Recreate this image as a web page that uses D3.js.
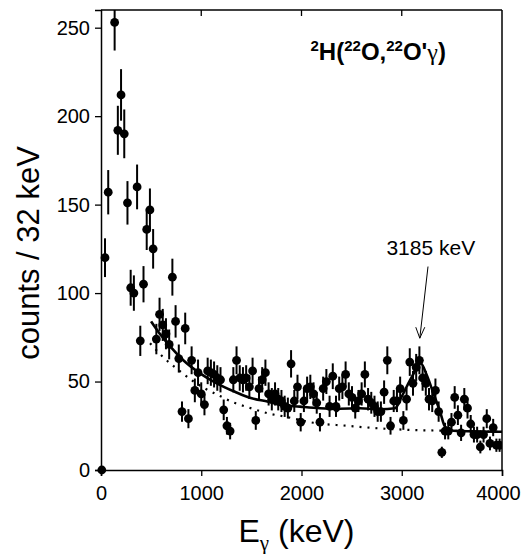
<!DOCTYPE html>
<html>
<head>
<meta charset="utf-8">
<script src="https://cdn.jsdelivr.net/npm/d3@7"></script>
<style>
  html, body { margin: 0; padding: 0; background: #fff; }
  svg { display: block; font-family: Arial, 'Liberation Sans', sans-serif; }
</style>
</head>
<body>
<svg id="chart" width="523" height="554"></svg>
<script>
// gamma energy of each 32 keV bin (keV)
const energies = [
  8, 40, 72, 136, 168, 200, 232, 264,
  296, 328, 360, 392, 424, 456, 488, 520,
  552, 584, 616, 648, 680, 712, 744, 776,
  808, 840, 872, 904, 936, 968, 1000, 1032,
  1064, 1096, 1128, 1160, 1192, 1224, 1256, 1288,
  1320, 1352, 1384, 1416, 1448, 1480, 1512, 1544,
  1576, 1608, 1640, 1672, 1704, 1736, 1768, 1800,
  1832, 1864, 1896, 1928, 1960, 1992, 2024, 2056,
  2088, 2120, 2152, 2184, 2216, 2248, 2280, 2312,
  2344, 2376, 2408, 2440, 2472, 2504, 2536, 2568,
  2600, 2632, 2664, 2696, 2728, 2760, 2792, 2824,
  2856, 2888, 2920, 2952, 2984, 3016, 3048, 3080,
  3112, 3144, 3176, 3208, 3240, 3272, 3304, 3336,
  3368, 3400, 3432, 3464, 3496, 3528, 3560, 3592,
  3624, 3656, 3688, 3720, 3752, 3784, 3816, 3848,
  3880, 3912, 3944, 3976
]

// counts per bin
const counts = [
  0, 120, 157, 253, 192, 212, 190, 151,
  103, 100, 160, 73, 105, 136, 147, 125,
  74, 88, 82, 77, 71, 109, 84, 63,
  33, 80, 29, 62, 45, 55, 43, 37,
  56, 55, 54, 52, 51, 34, 25, 22,
  51, 62, 52, 51, 52, 47, 56, 28,
  46, 51, 55, 43, 40, 43, 40, 39,
  36, 35, 60, 39, 47, 27, 39, 46,
  47, 43, 38, 27, 46, 50, 36, 53,
  36, 46, 47, 54, 43, 41, 35, 39,
  43, 54, 40, 38, 36, 33, 33, 44,
  62, 25, 39, 39, 46, 28, 40, 61,
  49, 58, 62, 52, 49, 40, 39, 45,
  33, 10, 22, 22, 27, 41, 31, 21,
  40, 35, 26, 20, 20, 13, 20, 29,
  15, 24, 14, 14
]

// solid curve (fit incl. 3185 keV line)
const fitE = [500, 600, 688, 821, 988, 1154, 1336, 1503, 1669, 1785, 1985, 2184, 2320, 2350, 2380, 2583, 2783, 2933, 2999, 3083, 3149, 3189, 3249, 3316, 3382, 3432, 3515, 4000]
const fitN = [84, 76, 70, 62, 54.6, 49, 44.2, 40.5, 38.6, 36.8, 35.8, 34.9, 34.5, 33.2, 34.6, 34.9, 34.3, 34.9, 41.4, 50.8, 57.4, 60.3, 53.7, 43.3, 33, 24.5, 22.2, 21.6]

// dotted curve (background)
const bgE = [489, 622, 765, 904, 1037, 1187, 1320, 1469, 1669, 1850, 2118, 2451, 2783, 3116, 3448, 4000]
const bgN = [71.6, 63.7, 56.9, 50.8, 46.1, 41.8, 38.2, 35.4, 32, 30, 26.7, 25, 23.5, 22.6, 22.2, 21.6]

const xTicks = [0, 1000, 2000, 3000, 4000]
const yTicks = [0, 50, 100, 150, 200, 250]

const svg = d3.select('#chart')
const margin = { top: 10, right: 21, bottom: 84, left: 101 }
const innerWidth = 523 - margin.left - margin.right
const innerHeight = 554 - margin.top - margin.bottom

const g = svg.append('g')
  .attr('transform', `translate(${margin.left},${margin.top})`)

const x = d3.scaleLinear().domain([0, 4000]).range([0, innerWidth])
const y = d3.scaleLinear().domain([0, 260]).range([innerHeight, 0])

// ------------------
// Axes
// ------------------
const xAxis = g.append('g')
  .attr('transform', `translate(0,${innerHeight})`)
  .call(d3.axisBottom(x).tickValues(xTicks).tickSize(6).tickPadding(10).tickFormat(d3.format('d')))

const yAxis = g.append('g')
  .call(d3.axisLeft(y).tickValues(yTicks).tickSize(6).tickPadding(5))

// small inward ticks on the top frame
g.selectAll('.top-tick')
  .data([1000, 2000, 3000])
  .enter()
  .append('line')
  .attr('x1', d => x(d)).attr('x2', d => x(d))
  .attr('y1', 0).attr('y2', 6)
  .attr('stroke', '#000').attr('stroke-width', 1.3)

for (const ax of [xAxis, yAxis]) {
  ax.selectAll('text').attr('font-size', 20).attr('fill', '#000')
    .attr('font-family', "Arial, 'Liberation Sans', sans-serif")
}
// last x label sits slightly inside the window edge
xAxis.selectAll('.tick text').filter(d => d === 4000).attr('dx', -4)
g.selectAll('.domain').attr('stroke', '#000').attr('stroke-width', 1.5)
g.selectAll('.tick line').attr('stroke', '#000').attr('stroke-width', 1.3)

// frame: top + right
g.append('line').attr('x1', 0).attr('x2', innerWidth).attr('y1', 0).attr('y2', 0)
  .attr('stroke', '#000').attr('stroke-width', 1.5)
g.append('line').attr('x1', innerWidth).attr('x2', innerWidth).attr('y1', 0).attr('y2', innerHeight)
  .attr('stroke', '#000').attr('stroke-width', 1.5)

// axis labels
g.append('text')
  .attr('transform', `translate(-62,${innerHeight / 2 + 13}) rotate(-90)`)
  .attr('text-anchor', 'middle')
  .attr('font-size', 31)
  .text('counts / 32 keV')

const xl = g.append('text')
  .attr('x', innerWidth / 2 - 5)
  .attr('y', innerHeight + 72)
  .attr('text-anchor', 'middle')
  .attr('font-size', 32)
xl.append('tspan').text('E')
xl.append('tspan').attr('font-size', 21).attr('dy', 8).attr('font-family', "'Liberation Serif', serif").text('γ')
xl.append('tspan').attr('dy', -8).text(' (keV)')

// ------------------
// Data
// ------------------
svg.append('defs').append('clipPath').attr('id', 'clip')
  .append('rect').attr('x', -6).attr('y', 0).attr('width', innerWidth + 6).attr('height', innerHeight + 6)

const plot = g.append('g')
  .attr('clip-path', 'url(#clip)')

const points = energies.map((e, i) => ({ e, n: counts[i] }))

const curve = d3.line()
  .x(d => x(d[0]))
  .y(d => y(d[1]))
  .curve(d3.curveMonotoneX)

// background (dotted)
plot.append('path')
  .datum(bgE.map((e, i) => [e, bgN[i]]))
  .attr('fill', 'none')
  .attr('stroke', '#000')
  .attr('stroke-width', 2.2)
  .attr('stroke-dasharray', '2,6')
  .attr('d', curve)

// fit (solid)
plot.append('path')
  .datum(fitE.map((e, i) => [e, fitN[i]]))
  .attr('fill', 'none')
  .attr('stroke', '#000')
  .attr('stroke-width', 2.6)
  .attr('d', curve)

// error bars (Poisson)
plot.selectAll('.err')
  .data(points.filter(d => d.n > 0))
  .enter()
  .append('line')
  .attr('x1', d => x(d.e))
  .attr('x2', d => x(d.e))
  .attr('y1', d => y(d.n + Math.sqrt(d.n)))
  .attr('y2', d => y(d.n - Math.sqrt(d.n)))
  .attr('stroke', '#000')
  .attr('stroke-width', 2)

plot.selectAll('.pt')
  .data(points)
  .enter()
  .append('circle')
  .attr('cx', d => x(d.e))
  .attr('cy', d => y(d.n))
  .attr('r', 4.4)
  .attr('fill', '#000')

// ------------------
// Annotations
// ------------------
const title = g.append('text')
  .attr('x', x(2090))
  .attr('y', y(232))
  .attr('font-size', 24)
  .attr('font-weight', 'bold')
title.append('tspan').attr('font-size', 15).attr('dy', -9).text('2')
title.append('tspan').attr('dy', 9).text('H(')
title.append('tspan').attr('font-size', 15).attr('dy', -9).text('22')
title.append('tspan').attr('dy', 9).text('O,')
title.append('tspan').attr('font-size', 15).attr('dy', -9).text('22')
title.append('tspan').attr('dy', 9).text("O'")
title.append('tspan').attr('font-weight', 'normal').attr('font-family', "'Liberation Serif', serif").text('γ')
title.append('tspan').text(')')

g.append('text')
  .attr('x', x(3290))
  .attr('y', y(121.5))
  .attr('text-anchor', 'middle')
  .attr('font-size', 21)
  .text('3185 keV')

const tip = [x(3180), y(74.5)]
const tail = [x(3262), y(115)]
g.append('line')
  .attr('x1', tail[0]).attr('y1', tail[1])
  .attr('x2', tip[0]).attr('y2', tip[1])
  .attr('stroke', '#000').attr('stroke-width', 1)
g.append('path')
  .attr('d', `M${tip[0] - 4},${tip[1] - 11} L${tip[0]},${tip[1]} L${tip[0] + 5},${tip[1] - 11}`)
  .attr('fill', 'none')
  .attr('stroke', '#000')
  .attr('stroke-width', 1)
</script>
</body>
</html>
